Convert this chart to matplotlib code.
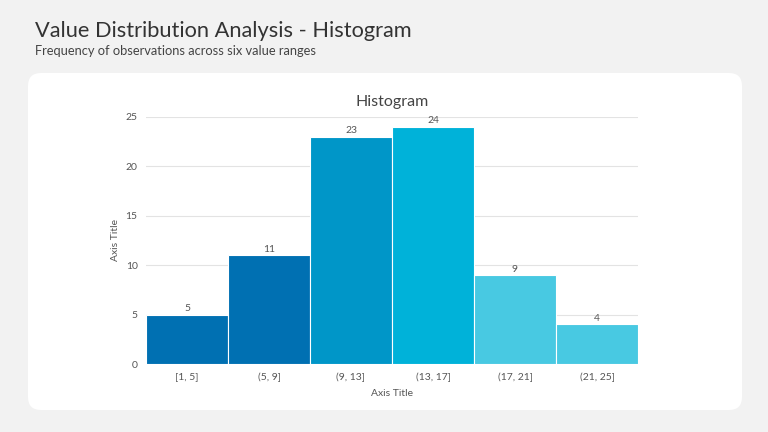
import matplotlib.pyplot as plt
from matplotlib.patches import FancyBboxPatch

bins = ['[1, 5]', '(5, 9]', '(9, 13]', '(13, 17]', '(17, 21]', '(21, 25]']
counts = [5, 11, 23, 24, 9, 4]
colors = ['#0070b2', '#0070b2', '#0096c8', '#00b2d9', '#48c9e2', '#48c9e2']

plt.rcParams['font.family'] = ['Lato', 'DejaVu Sans']

fig = plt.figure(figsize=(7.68, 4.32), dpi=100, facecolor='#f2f2f2')

# white card behind the chart
card = FancyBboxPatch((0.28, 0.22), 7.14, 3.37,
                      boxstyle='round,pad=0,rounding_size=0.13',
                      transform=fig.dpi_scale_trans,
                      facecolor='white', edgecolor='none', zorder=-1)
fig.patches.append(card)

fig.text(35 / 768, 1 - 31 / 432, 'Value Distribution Analysis - Histogram',
         fontsize=15.7, color='#333333', va='center', ha='left')
fig.text(35 / 768, 1 - 51 / 432, 'Frequency of observations across six value ranges',
         fontsize=9.3, color='#444444', va='center', ha='left')

ax = fig.add_axes([146 / 768, 1 - 364 / 432, 492 / 768, 247 / 432])
ax.set_zorder(2)
ax.set_facecolor('none')

bars = ax.bar(range(len(bins)), counts, width=1.0, color=colors,
              edgecolor='white', linewidth=0.8, zorder=3)
ax.bar_label(bars, padding=1, fontsize=7.5, color='#555555')

ax.set_xlim(-0.5, len(bins) - 0.5)
ax.set_ylim(0, 25)
ax.set_yticks([0, 5, 10, 15, 20, 25])
ax.set_xticks(range(len(bins)))
ax.set_xticklabels(bins)
ax.tick_params(length=0, labelsize=7.5, labelcolor='#555555', pad=6)
ax.grid(axis='y', color='#e3e3e3', linewidth=0.8, zorder=0)
for s in ax.spines.values():
    s.set_visible(False)

ax.set_title('Histogram', fontsize=11.5, color='#444444', pad=8)
ax.set_xlabel('Axis Title', fontsize=7.5, color='#555555', labelpad=5)
ax.set_ylabel('Axis Title', fontsize=7.5, color='#555555', labelpad=4)

fig.savefig('out.png', dpi=100, facecolor=fig.get_facecolor())
